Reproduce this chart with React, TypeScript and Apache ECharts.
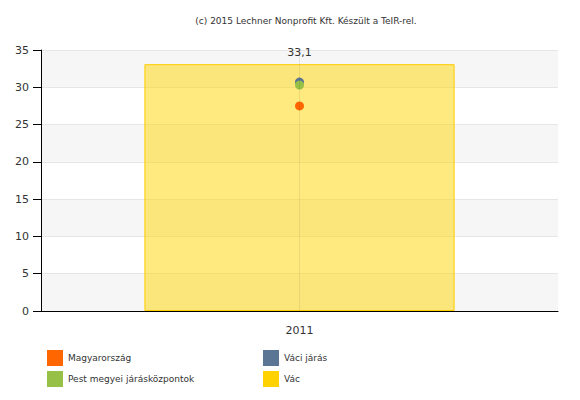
import * as echarts from "echarts";
import { useEffect, useRef } from "react";

const categories = ["2011"];
const vac = [33.1];
const magyarorszag = [27.5];
const vaciJaras = [30.7];
const pestJaraskozpontok = [30.3];

const FONT = "DejaVu Sans";

const fmt = (v: number) => String(v).replace(".", ",");

export default function App() {
  const chartRef = useRef<HTMLDivElement>(null);

  useEffect(() => {
    if (!chartRef.current) return;
    const chart = echarts.init(chartRef.current, null, { renderer: "svg" });

    const legendText = { fontFamily: FONT, fontSize: 9, color: "#333" };

    const option: echarts.EChartsOption = {
      animation: false,
      title: {
        text: "(c) 2015 Lechner Nonprofit Kft. Készült a TeIR-rel.",
        left: 301,
        top: 11,
        textAlign: "center",
        textStyle: { fontFamily: FONT, fontSize: 9, fontWeight: "normal", color: "#333" },
      },
      grid: { left: 41, right: 22, top: 50, bottom: 89 },
      legend: [
        {
          orient: "vertical",
          left: 47,
          top: 350,
          height: 45,
          padding: 0,
          icon: "rect",
          itemWidth: 16,
          itemHeight: 16,
          itemGap: 5,
          textStyle: legendText,
          data: ["Magyarország", "Pest megyei járásközpontok"],
        },
        {
          orient: "vertical",
          left: 263,
          top: 350,
          height: 45,
          padding: 0,
          icon: "rect",
          itemWidth: 16,
          itemHeight: 16,
          itemGap: 5,
          textStyle: legendText,
          data: [
            "Váci járás",
            { name: "Vác", itemStyle: { color: "#ffd200", borderWidth: 0 } },
          ],
        },
      ],
      xAxis: {
        type: "category",
        data: categories,
        axisLine: { lineStyle: { color: "#000" } },
        axisTick: { alignWithLabel: true, length: 5, lineStyle: { color: "#000" } },
        axisLabel: { fontFamily: FONT, fontSize: 11, color: "#333", margin: 14 },
      },
      yAxis: {
        type: "value",
        min: 0,
        max: 35,
        interval: 5,
        axisLine: { show: true, lineStyle: { color: "#000" } },
        axisTick: { show: true, length: 8, lineStyle: { color: "#000" } },
        axisLabel: { fontFamily: FONT, fontSize: 11, color: "#333", margin: 12 },
        splitLine: { lineStyle: { color: "#e6e6e6" } },
        splitArea: { show: true, areaStyle: { color: ["#f6f6f6", "#ffffff"] } },
      },
      series: [
        {
          name: "Vác",
          type: "bar",
          data: vac,
          barWidth: "60%",
          itemStyle: {
            color: "rgba(255,214,0,0.5)",
            borderColor: "#ffcc00",
            borderWidth: 1,
          },
          label: {
            show: true,
            position: "top",
            distance: 6,
            fontFamily: FONT,
            fontSize: 11,
            color: "#333",
            formatter: (p: any) => fmt(p.value),
          },
          markLine: {
            silent: true,
            symbol: "none",
            label: { show: false },
            lineStyle: { color: "rgba(0,0,0,0.07)", type: "solid", width: 1 },
            data: [{ xAxis: "2011" }],
          },
        },
        {
          name: "Magyarország",
          type: "scatter",
          data: magyarorszag,
          symbolSize: 9,
          itemStyle: { color: "#ff6600", opacity: 1 },
        },
        {
          name: "Váci járás",
          type: "scatter",
          data: vaciJaras,
          symbolSize: 9,
          itemStyle: { color: "#5b7694", opacity: 1 },
        },
        {
          name: "Pest megyei járásközpontok",
          type: "scatter",
          data: pestJaraskozpontok,
          symbolSize: 9,
          itemStyle: { color: "#96c046", opacity: 1 },
        },
      ],
    };

    chart.setOption(option);
    return () => chart.dispose();
  }, []);

  return (
    <div
      ref={chartRef}
      style={{ position: "absolute", left: 0, top: 0, width: 580, height: 400 }}
    />
  );
}
